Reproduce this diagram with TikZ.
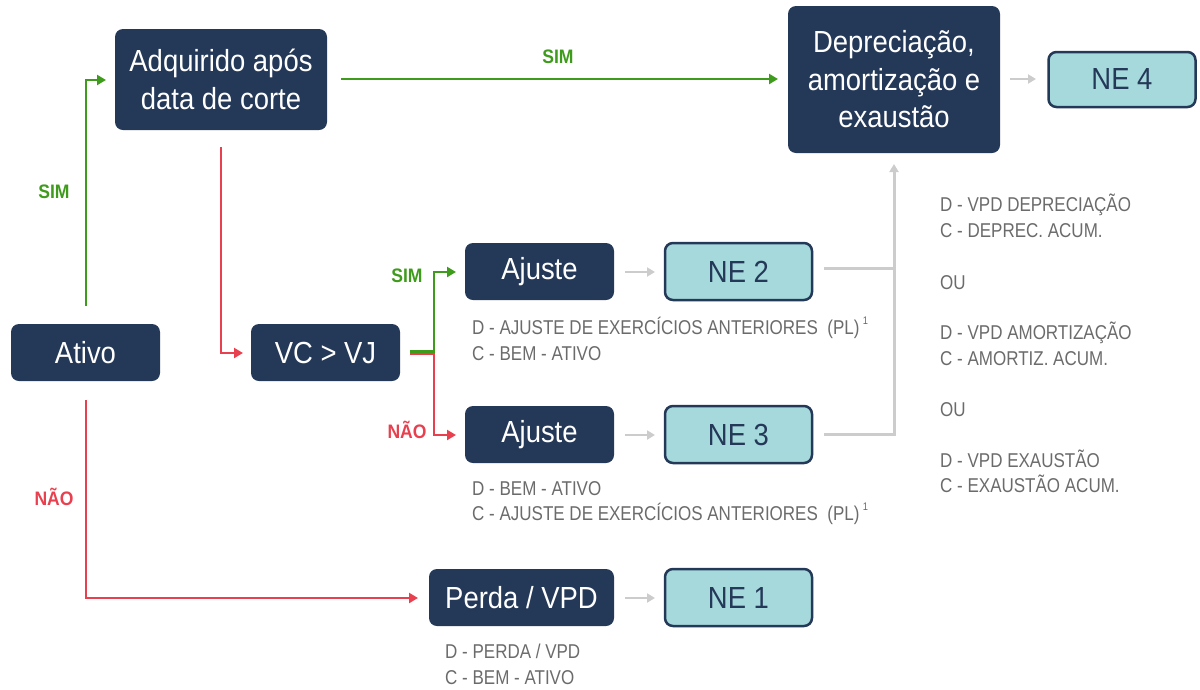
\documentclass[tikz,border=0pt]{standalone}
\usepackage{fontspec}
\setmainfont{Liberation Sans}[FakeStretch=0.9]
\newfontfamily\notefont{Liberation Sans}[FakeStretch=0.85]
\usetikzlibrary{arrows.meta}
\definecolor{navy}{HTML}{243858}
\definecolor{teal}{HTML}{A6D9DC}
\definecolor{gr}{HTML}{3F9B1C}
\definecolor{rd}{HTML}{E8404E}
\definecolor{lg}{HTML}{CCCCCC}
\definecolor{tx}{HTML}{6B6B6B}
\tikzset{
  dark/.style={rectangle, rounded corners=8pt, fill=navy, text=white, font=\fontsize{30.5}{37.5}\selectfont, align=center, inner sep=0pt},
  ne/.style={rectangle, rounded corners=8pt, fill=teal, draw=navy, line width=2.5pt, text=navy, font=\fontsize{30.5}{37.5}\selectfont, inner sep=0pt},
  gline/.style={gr, line width=2.8pt, -{Triangle[length=9pt,width=10pt]}},
  rline/.style={rd, line width=2.8pt, -{Triangle[length=9pt,width=10pt]}},
  lgarrow/.style={lg, line width=2.8pt, -{Triangle[length=8pt,width=9pt]}},
  lgline/.style={lg, line width=3pt},
  lbl/.style={font=\fontsize{19.5}{22}\selectfont\bfseries, inner sep=0pt},
  note/.style={text=tx, font=\notefont\fontsize{20}{25.6}\selectfont, align=left, anchor=north west, inner sep=0pt},
}
\begin{document}
\begin{tikzpicture}[x=1pt,y=-1pt]
\useasboundingbox (0,0) rectangle (1200,689);
% dark boxes
\node[dark, minimum width=212pt, minimum height=101pt] (adq) at (221,79.5) {Adquirido após\\data de corte};
\node[dark, minimum width=149pt, minimum height=57pt] (ativo) at (85.5,352.5) {Ativo};
\node[dark, minimum width=149pt, minimum height=57pt] (vc) at (325.5,352.5) {VC > VJ};
\node[dark, minimum width=149pt, minimum height=57pt] (aj1) at (539.5,271.5) {Ajuste};
\node[dark, minimum width=149pt, minimum height=57pt] (aj2) at (539.5,434.5) {Ajuste};
\node[dark, minimum width=185pt, minimum height=57pt] (perda) at (521.5,597.5) {Perda / VPD};
\node[dark, minimum width=212pt, minimum height=147pt] (dep) at (894,79.5) {Depreciação,\\amortização e\\exaustão};
% NE boxes
\node[ne, minimum width=147pt, minimum height=57pt] (ne2) at (738.5,271.5) {NE 2};
\node[ne, minimum width=147pt, minimum height=57pt] (ne3) at (738.5,434.5) {NE 3};
\node[ne, minimum width=147pt, minimum height=57pt] (ne1) at (738.5,597.5) {NE 1};
\node[ne, minimum width=147pt, minimum height=55pt] (ne4) at (1122,79.5) {NE 4};
% coordinates
\coordinate (a1) at (86,306);
\coordinate (a2) at (86,80);
\coordinate (a3) at (106,80);
\coordinate (b1) at (341,79);
\coordinate (b2) at (778,79);
\coordinate (c1) at (221,147);
\coordinate (c2) at (221,353);
\coordinate (c3) at (243,353);
\coordinate (d1) at (86,400);
\coordinate (d2) at (86,598);
\coordinate (d3) at (418,598);
\coordinate (e0) at (410,351.5);
\coordinate (e1) at (434,351.5);
\coordinate (e2) at (434,272);
\coordinate (e3) at (456,272);
\coordinate (f0) at (410,354);
\coordinate (f1) at (434,354);
\coordinate (f2) at (434,435);
\coordinate (f3) at (456,435);
% green / red connectors
\draw[gline] (a1) -- (a2) -- (a3);
\draw[gline] (b1) -- (b2);
\draw[rline] (c1) -- (c2) -- (c3);
\draw[rline] (d1) -- (d2) -- (d3);
\draw[rline] (f0) -- (f1) -- (f2) -- (f3);
\draw[gline] (e0) -- (e1) -- (e2) -- (e3);
% labels
\node[lbl, text=gr] (l1) at (54,192) {SIM};
\node[lbl, text=gr] (l2) at (558,57) {SIM};
\node[lbl, text=gr] (l3) at (407,276) {SIM};
\node[lbl, text=rd] (l4) at (407,430) {NÃO};
\node[lbl, text=rd] (l5) at (54,497) {NÃO};
% gray arrows
\coordinate (g1a) at (625,272); \coordinate (g1b) at (655,272);
\coordinate (g2a) at (625,435); \coordinate (g2b) at (655,435);
\coordinate (g3a) at (625,598); \coordinate (g3b) at (655,598);
\coordinate (g4a) at (1010,79); \coordinate (g4b) at (1036,79);
\draw[lgarrow] (g1a) -- (g1b);
\draw[lgarrow] (g2a) -- (g2b);
\draw[lgarrow] (g3a) -- (g3b);
\draw[lgarrow] (g4a) -- (g4b);
\coordinate (h1) at (824,268); \coordinate (h2) at (894,268);
\coordinate (h3) at (824,434); \coordinate (h4) at (894,434);
\coordinate (h5) at (894,164);
\draw[lgline] (h1) -- (h2);
\draw[lgline, -{Triangle[length=8pt,width=9pt]}] (h3) -- (h4) -- (h5);
% notes
\node[note] (n1) at (472,317) {D - AJUSTE DE EXERCÍCIOS ANTERIORES~ (PL)\,\raisebox{0.5em}{\fontsize{11}{11}\selectfont 1}\\C - BEM - ATIVO};
\node[note] (n2) at (472,481) {D - BEM - ATIVO\\C - AJUSTE DE EXERCÍCIOS ANTERIORES~ (PL)\,\raisebox{0.5em}{\fontsize{11}{11}\selectfont 1}};
\node[note] (n3) at (445,644) {D - PERDA / VPD\\C - BEM - ATIVO};
\node[note] (n4) at (940,194) {D - VPD DEPRECIAÇÃO\\C - DEPREC. ACUM.\\[27pt]OU\\[24pt]D - VPD AMORTIZAÇÃO\\C - AMORTIZ. ACUM.\\[26pt]OU\\[25pt]D - VPD EXAUSTÃO\\C - EXAUSTÃO ACUM.};
\end{tikzpicture}
\end{document}
